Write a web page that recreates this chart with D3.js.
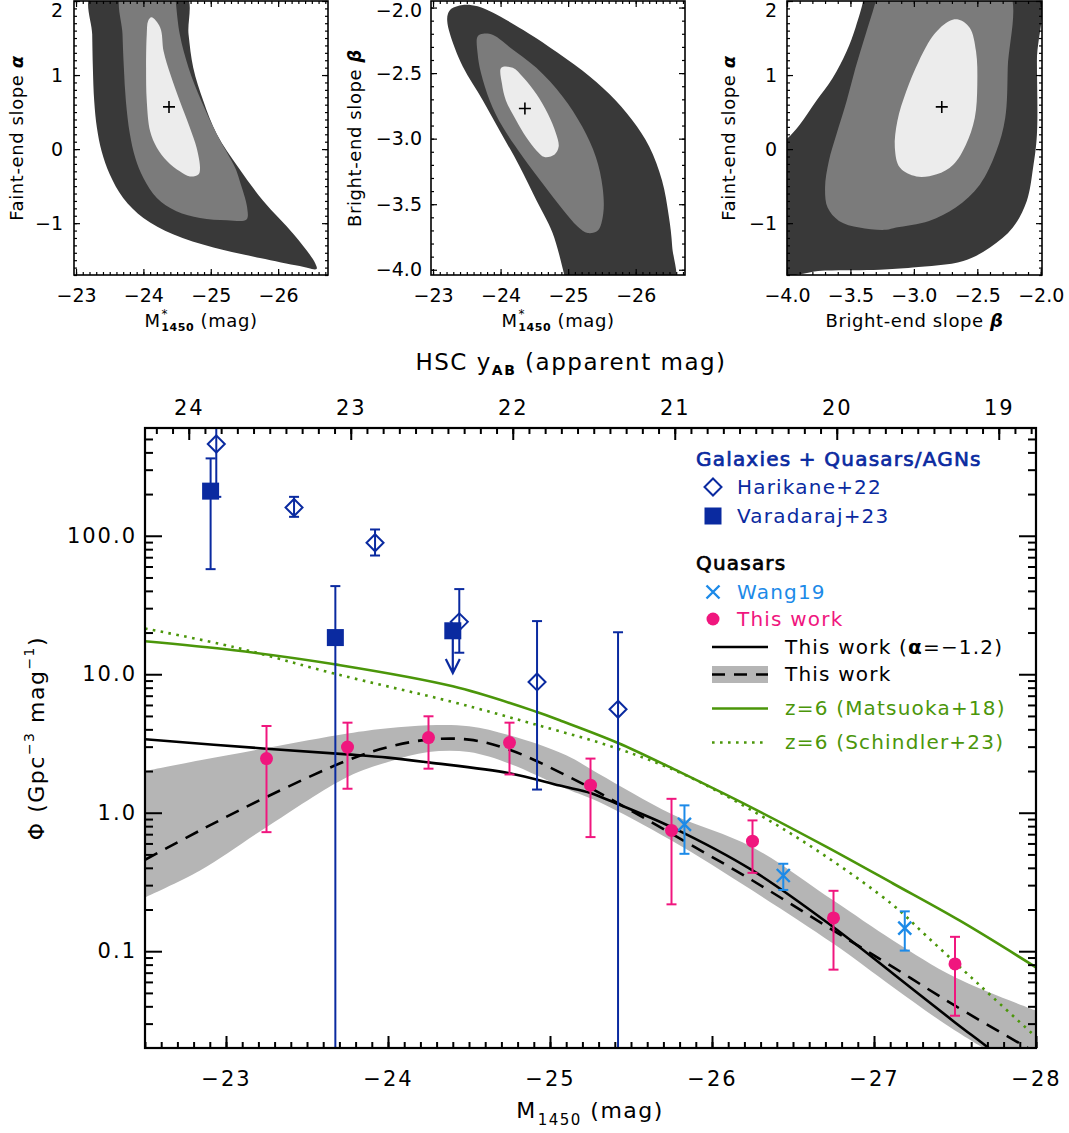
<!DOCTYPE html>
<html>
<head>
<meta charset="utf-8">
<title>Quasar luminosity function</title>
<script src="https://cdn.jsdelivr.net/npm/d3@7"></script>
<style>
  html, body { margin: 0; padding: 0; background: #fff; }
  svg text { font-family: 'DejaVu Sans', 'Noto Sans', sans-serif; }
</style>
</head>
<body>
<svg id="fig" width="1069" height="1133" xmlns="http://www.w3.org/2000/svg"></svg>
<script>
// ====================== data ======================

// Confidence regions of the double power-law fit (outer = 3 sigma, inner = 1 sigma)
// M*_1450 vs faint-end slope alpha
const regionMstarAlpha3 = [[-23.23,2.1],[-23.24,1.55],[-23.25,1.10],[-23.27,0.65],[-23.31,0.29],[-23.38,-0.03],[-23.50,-0.34],[-23.70,-0.66],[-24.00,-0.93],[-24.44,-1.15],[-25.04,-1.33],[-25.73,-1.47],[-26.32,-1.58],[-26.57,-1.62],[-26.55,-1.54],[-26.23,-1.15],[-25.78,-0.70],[-25.41,-0.25],[-25.09,0.20],[-24.89,0.65],[-24.74,1.10],[-24.67,1.55],[-24.62,2.1]];
const regionMstarAlpha2 = [[-23.68,2.1],[-23.69,1.55],[-23.71,1.10],[-23.74,0.65],[-23.80,0.20],[-23.88,-0.12],[-24.00,-0.39],[-24.20,-0.66],[-24.49,-0.84],[-24.84,-0.93],[-25.24,-0.96],[-25.53,-0.95],[-25.54,-0.79],[-25.43,-0.43],[-25.36,-0.25],[-25.09,0.20],[-24.86,0.65],[-24.67,1.10],[-24.54,1.55],[-24.48,2.0],[-24.47,2.1]];
const regionMstarAlpha1 = [[-24.12,1.78],[-24.25,1.64],[-24.30,1.32],[-24.40,1.01],[-24.54,0.65],[-24.69,0.29],[-24.79,0.02],[-24.84,-0.25],[-24.82,-0.34],[-24.69,-0.37],[-24.54,-0.30],[-24.35,-0.16],[-24.20,0.02],[-24.10,0.24],[-24.05,0.65],[-24.04,1.10],[-24.05,1.55],[-24.07,1.73]];
const bestMstarAlpha = [-24.38, 0.57];

// M*_1450 vs bright-end slope beta
const regionMstarBeta3 = [[-23.22,-2.05],[-23.27,-2.01],[-23.44,-1.98],[-23.66,-1.99],[-23.89,-2.04],[-24.33,-2.17],[-24.72,-2.30],[-25.21,-2.48],[-25.61,-2.66],[-25.95,-2.86],[-26.20,-3.06],[-26.39,-3.32],[-26.49,-3.59],[-26.54,-3.82],[-26.55,-4.15],[-24.99,-4.15],[-24.97,-4.10],[-24.77,-3.72],[-24.53,-3.47],[-24.28,-3.21],[-24.01,-2.96],[-23.74,-2.71],[-23.44,-2.45],[-23.25,-2.20],[-23.21,-2.10]];
const regionMstarBeta2 = [[-23.66,-2.22],[-23.74,-2.20],[-23.89,-2.21],[-24.13,-2.30],[-24.53,-2.46],[-24.92,-2.68],[-25.21,-2.91],[-25.41,-3.14],[-25.51,-3.37],[-25.52,-3.57],[-25.44,-3.70],[-25.29,-3.72],[-25.14,-3.67],[-24.92,-3.54],[-24.62,-3.34],[-24.33,-3.14],[-24.03,-2.91],[-23.84,-2.71],[-23.71,-2.50],[-23.66,-2.35]];
const regionMstarBeta1 = [[-24.01,-2.46],[-24.18,-2.46],[-24.33,-2.53],[-24.53,-2.66],[-24.70,-2.81],[-24.82,-2.96],[-24.86,-3.06],[-24.80,-3.12],[-24.65,-3.14],[-24.53,-3.09],[-24.38,-2.99],[-24.23,-2.86],[-24.08,-2.71],[-24.02,-2.58]];
const bestMstarBeta = [-24.36, -2.77];

// beta vs alpha
const regionBetaAlpha3 = [[-4.10,0.02],[-4.00,0.14],[-3.90,0.33],[-3.77,0.65],[-3.64,0.96],[-3.53,1.32],[-3.46,1.64],[-3.40,2.0],[-3.39,2.15],[-2.70,2.15],[-2.03,2.15],[-2.03,1.20],[-2.03,0.20],[-2.06,-0.25],[-2.11,-0.70],[-2.22,-1.06],[-2.40,-1.33],[-2.61,-1.51],[-3.01,-1.60],[-3.27,-1.63],[-3.70,-1.64],[-4.10,-1.65]];
const regionBetaAlpha2 = [[-3.28,2.15],[-3.30,2.0],[-3.38,1.55],[-3.46,1.10],[-3.53,0.65],[-3.61,0.20],[-3.67,-0.16],[-3.70,-0.52],[-3.68,-0.79],[-3.59,-0.97],[-3.43,-1.06],[-3.22,-1.09],[-3.14,-1.06],[-2.88,-0.97],[-2.67,-0.79],[-2.48,-0.48],[-2.35,-0.03],[-2.28,0.42],[-2.26,1.10],[-2.26,2.15],[-2.75,2.15]];
const regionBetaAlpha1 = [[-2.65,1.75],[-2.56,1.64],[-2.51,1.32],[-2.50,0.87],[-2.52,0.42],[-2.59,0.06],[-2.69,-0.21],[-2.82,-0.34],[-2.98,-0.37],[-3.11,-0.25],[-3.15,0.02],[-3.13,0.38],[-3.06,0.78],[-2.96,1.19],[-2.84,1.55],[-2.72,1.73]];
const bestBetaAlpha = [-2.78, 0.57];

// Panel tick labels
const ticksMstar = [-23, -24, -25, -26];
const ticksAlpha = [-1, 0, 1, 2];
const ticksBeta = [-4.0, -3.5, -3.0, -2.5, -2.0];

// Main panel: binned luminosity function, this work
const thisWorkM   = [-23.25, -23.75, -24.25, -24.75, -25.25, -25.75, -26.25, -26.75, -27.5];
const thisWorkPhi = [2.46, 2.98, 3.49, 3.21, 1.58, 0.745, 0.623, 0.174, 0.081];
const thisWorkHi  = [4.23, 4.47, 4.97, 4.47, 2.46, 1.26, 0.88, 0.273, 0.127];
const thisWorkLo  = [0.724, 1.49, 2.08, 1.89, 0.667, 0.218, 0.368, 0.0736, 0.0342];

// Wang et al. 2019
const wangM   = [-25.83, -26.44, -27.19];
const wangPhi = [0.823, 0.352, 0.147];
const wangHi  = [1.13, 0.428, 0.194];
const wangLo  = [0.505, 0.277, 0.101];

// Harikane et al. 2022 (galaxies + AGNs)
const harikaneM   = [-22.94, -23.42, -23.92, -24.44, -24.92, -25.42];
const harikanePhi = [460, 160, 89, 23.9, 8.8, 5.58];
const harikaneHi  = [1000, 191, 111, 41.2, 24.2, 20.1];
const harikaneLo  = [191, 137, 72, 14.3, 1.47, 0.001];

// Varadaraj et al. 2023 (galaxies + AGNs); last bin is an upper limit
const varadarajM     = [-22.905, -23.675, -24.40];
const varadarajPhi   = [210, 18.4, 20.6];
const varadarajHi    = [362, 43.3, null];
const varadarajLo    = [57.4, 0.001, null];
const varadarajLimit = [null, null, 10.2];

// Fitted luminosity functions
const fixedAlphaM   = [-22.5, -23.25, -23.75, -24.0, -24.25, -24.75, -25.06, -25.25, -25.34, -25.75, -26.25, -26.75, -27.12, -27.5, -27.71, -28.0];
const fixedAlphaPhi = [3.39, 2.90, 2.64, 2.50, 2.31, 1.93, 1.57, 1.39, 1.26, 0.787, 0.383, 0.149, 0.0685, 0.0306, 0.0199, 0.0107];

const bestFitM   = [-22.5, -22.84, -23.25, -23.75, -24.0, -24.25, -24.5, -24.75, -25.1, -25.34, -25.75, -26.25, -26.75, -27.12, -27.5, -28.0];
const bestFitPhi = [0.457, 0.745, 1.30, 2.39, 2.98, 3.37, 3.37, 2.85, 1.86, 1.32, 0.705, 0.324, 0.141, 0.0765, 0.0404, 0.0185];

const bandM  = [-22.5, -22.84, -23.25, -23.75, -24.0, -24.25, -24.5, -24.75, -25.1, -25.3, -25.75, -26.25, -26.75, -27.12, -27.5, -28.0];
const bandHi = [2.0, 2.39, 2.93, 3.73, 4.07, 4.28, 4.21, 3.62, 2.60, 1.91, 0.98, 0.564, 0.232, 0.119, 0.0648, 0.0372];
const bandLo = [0.245, 0.383, 0.787, 1.81, 2.32, 2.74, 2.74, 2.26, 1.49, 1.20, 0.63, 0.274, 0.113, 0.0548, 0.0267, 0.012];

// z = 6 luminosity functions
const matsuokaM   = [-22.5, -23.05, -23.67, -24.40, -24.92, -25.06, -25.42, -25.80, -26.30, -26.71, -27.12, -27.53, -28.0];
const matsuokaPhi = [17.3, 14.9, 11.8, 8.18, 5.34, 4.65, 3.19, 1.97, 1.01, 0.564, 0.307, 0.166, 0.0765];

const schindlerM   = [-22.5, -23.05, -23.67, -24.40, -24.89, -25.42, -25.84, -26.30, -26.71, -27.12, -27.32, -27.53, -27.74, -28.0];
const schindlerPhi = [21.4, 15.7, 10.1, 6.3, 4.40, 2.90, 1.86, 0.956, 0.478, 0.214, 0.130, 0.077, 0.0457, 0.024];

// Axis ticks of the main panel
const absMagTicks = [-23, -24, -25, -26, -27, -28];
const appMagTicks = [24, 23, 22, 21, 20, 19];
const phiTicks = [0.1, 1, 10, 100];
const appMagOffset = 46.77;   // y_AB = M_1450 + offset

// ====================== drawing ======================
const svg = d3.select("#fig");
const MINUS = "\u2212";
const fmtInt = d => (d < 0 ? MINUS : "") + Math.abs(d);
const fmtOne = d => (d < 0 ? MINUS : "") + Math.abs(d).toFixed(1);
const fmtPhi = d => d >= 1 ? d.toFixed(1) : String(d);

const COL = {
  dark: "#393939", mid: "#7b7b7b", light: "#ececec",
  navy: "#0a2aa0", pink: "#f0167e", sky: "#1c8ae8", green: "#4b960a", band: "#b5b5b5"
};

function stepValues(domain, step) {
  const lo = Math.min(domain[0], domain[1]), hi = Math.max(domain[0], domain[1]);
  const out = [];
  for (let k = Math.ceil(lo / step - 1e-9); k * step <= hi + 1e-9; k++) out.push(+(k * step).toFixed(4));
  return out;
}

function cleanAxis(sel, opts) {
  sel.select(".domain").remove();
  sel.attr("font-family", null).attr("font-size", null);
  sel.selectAll(".tick line").attr("stroke", "#000").attr("stroke-width", opts.sw);
  sel.selectAll(".tick text").attr("fill", "#000")
    .style("font-size", (opts.fs || 18) + "px")
    .style("letter-spacing", (opts.ls || 0) + "px");
}

// ---------- the three confidence-region panels ----------
const panelTop = 1, panelBottom = 275;
const panels = [
  { left: 74, right: 328, xDomain: [-22.97, -26.74], yDomain: [-1.7, 2.0],
    xMajor: ticksMstar, xStep: 0.1, yMajor: ticksAlpha, yStep: 0.1, xFmt: fmtInt, yFmt: fmtInt,
    regions: [regionMstarAlpha3, regionMstarAlpha2, regionMstarAlpha1], best: bestMstarAlpha,
    xTitle: "mstar", yTitle: ["Faint-end slope ", "α"], yTitleX: 23, yPad: 11 },
  { left: 431, right: 685, xDomain: [-22.97, -26.73], yDomain: [-4.04, -1.95],
    xMajor: ticksMstar, xStep: 0.1, yMajor: ticksBeta, yStep: 0.1, xFmt: fmtInt, yFmt: fmtOne,
    regions: [regionMstarBeta3, regionMstarBeta2, regionMstarBeta1], best: bestMstarBeta,
    xTitle: "mstar", yTitle: ["Bright-end slope ", "β"], yTitleX: 361, yPad: 9 },
  { left: 787, right: 1042, xDomain: [-4.0, -1.99], yDomain: [-1.7, 2.0],
    xMajor: ticksBeta, xStep: 0.1, yMajor: ticksAlpha, yStep: 0.1, xFmt: fmtOne, yFmt: fmtInt,
    regions: [regionBetaAlpha3, regionBetaAlpha2, regionBetaAlpha1], best: bestBetaAlpha,
    xTitle: ["Bright-end slope  ", "β"], yTitle: ["Faint-end slope ", "α"], yTitleX: 735, yPad: 10 }
];

panels.forEach((p, i) => {
  const xs = d3.scaleLinear().domain(p.xDomain).range([p.left, p.right]);
  const ys = d3.scaleLinear().domain(p.yDomain).range([panelBottom, panelTop]);
  const g = svg.append("g");
  const clipId = "pclip" + i;
  g.append("clipPath").attr("id", clipId).append("rect")
    .attr("x", p.left).attr("y", panelTop).attr("width", p.right - p.left).attr("height", panelBottom - panelTop);

  const shape = d3.line().x(d => xs(d[0])).y(d => ys(d[1])).curve(d3.curveCatmullRomClosed.alpha(0.5));
  const fills = [COL.dark, COL.mid, COL.light];
  const cg = g.append("g").attr("clip-path", `url(#${clipId})`);
  p.regions.forEach((r, k) => cg.append("path").attr("d", shape(r)).attr("fill", fills[k]));

  // best-fit marker
  const bx = xs(p.best[0]), by = ys(p.best[1]);
  g.append("path").attr("d", `M${bx - 6},${by}H${bx + 6}M${bx},${by - 6}V${by + 6}`)
    .attr("stroke", "#000").attr("stroke-width", 1.6).attr("fill", "none");

  // axes with inward ticks on all four sides
  const xMinor = stepValues(p.xDomain, p.xStep), yMinor = stepValues(p.yDomain, p.yStep);
  const o = { sw: 1.2, fs: 19 };
  g.append("g").attr("transform", `translate(0,${panelBottom})`)
    .call(d3.axisBottom(xs).tickValues(xMinor).tickSize(-3).tickFormat("")).call(cleanAxis, o);
  g.append("g").attr("transform", `translate(0,${panelTop})`)
    .call(d3.axisTop(xs).tickValues(xMinor).tickSize(-3).tickFormat("")).call(cleanAxis, o);
  g.append("g").attr("transform", `translate(${p.left},0)`)
    .call(d3.axisLeft(ys).tickValues(yMinor).tickSize(-3).tickFormat("")).call(cleanAxis, o);
  g.append("g").attr("transform", `translate(${p.right},0)`)
    .call(d3.axisRight(ys).tickValues(yMinor).tickSize(-3).tickFormat("")).call(cleanAxis, o);
  g.append("g").attr("transform", `translate(0,${panelBottom})`)
    .call(d3.axisBottom(xs).tickValues(p.xMajor).tickSize(-6).tickPadding(14).tickFormat(p.xFmt)).call(cleanAxis, o);
  g.append("g").attr("transform", `translate(0,${panelTop})`)
    .call(d3.axisTop(xs).tickValues(p.xMajor).tickSize(-6).tickFormat("")).call(cleanAxis, o);
  const yl = g.append("g").attr("transform", `translate(${p.left},0)`)
    .call(d3.axisLeft(ys).tickValues(p.yMajor).tickSize(-6).tickPadding(p.yPad).tickFormat(p.yFmt)).call(cleanAxis, o);
  // keep the uppermost label inside the figure
  yl.selectAll(".tick").filter(d => ys(d) < 10).select("text").attr("y", d => 10 - ys(d));
  g.append("g").attr("transform", `translate(${p.right},0)`)
    .call(d3.axisRight(ys).tickValues(p.yMajor).tickSize(-6).tickFormat("")).call(cleanAxis, o);

  g.append("rect").attr("x", p.left).attr("y", panelTop).attr("width", p.right - p.left)
    .attr("height", panelBottom - panelTop).attr("fill", "none").attr("stroke", "#000").attr("stroke-width", 1.6);

  // axis titles
  const cx = (p.left + p.right) / 2;
  const xt = g.append("text").attr("x", cx).attr("y", 327).attr("text-anchor", "middle")
    .style("font-size", "18px").style("letter-spacing", "0.6px");
  if (p.xTitle === "mstar") {
    xt.append("tspan").text("M");
    xt.append("tspan").text("*").style("font-size", "12px").attr("dy", -9).attr("dx", 1);
    xt.append("tspan").text("1450").style("font-size", "11px").style("font-weight", "bold").attr("dx", -7).attr("dy", 13);
    xt.append("tspan").text(" (mag)").attr("dy", -4);
  } else {
    xt.append("tspan").text(p.xTitle[0]);
    xt.append("tspan").text(p.xTitle[1]).style("font-weight", "bold").style("font-style", "italic");
  }
  const yt = g.append("text").attr("transform", `translate(${p.yTitleX},${(panelTop + panelBottom) / 2}) rotate(-90)`)
    .attr("text-anchor", "middle").style("font-size", "18px").style("letter-spacing", "0.6px");
  yt.append("tspan").text(p.yTitle[0]);
  yt.append("tspan").text(p.yTitle[1]).style("font-weight", "bold").style("font-style", "italic");
});

// ---------- main panel: luminosity function ----------
const L = 145, R = 1036, T = 428, B = 1048;
const x = d3.scaleLinear().domain([-22.5, -28]).range([L, R]);
const xTop = d3.scaleLinear().domain([-22.5 + appMagOffset, -28 + appMagOffset]).range([L, R]);
const y = d3.scaleLog().domain([0.02, 600]).range([B, T]);

const main = svg.append("g");
main.append("clipPath").attr("id", "mclip").append("rect")
  .attr("x", L).attr("y", T).attr("width", R - L).attr("height", B - T);
const plot = main.append("g").attr("clip-path", "url(#mclip)");

// uncertainty band of the best fit
plot.append("path")
  .datum(bandM.map((m, i) => [m, bandLo[i], bandHi[i]]))
  .attr("fill", COL.band)
  .attr("d", d3.area().x(d => x(d[0])).y0(d => y(d[1])).y1(d => y(d[2])).curve(d3.curveCatmullRom.alpha(0.5)));

const curve = d3.line().x(d => x(d[0])).y(d => y(d[1])).curve(d3.curveCatmullRom.alpha(0.5));
const zip = (a, b) => a.map((v, i) => [v, b[i]]);

plot.append("path").attr("d", curve(zip(schindlerM, schindlerPhi)))
  .attr("fill", "none").attr("stroke", COL.green).attr("stroke-width", 2.6).attr("stroke-dasharray", "2.6 5.4");
plot.append("path").attr("d", curve(zip(matsuokaM, matsuokaPhi)))
  .attr("fill", "none").attr("stroke", COL.green).attr("stroke-width", 2.6);
plot.append("path").attr("d", curve(zip(bestFitM, bestFitPhi)))
  .attr("fill", "none").attr("stroke", "#000").attr("stroke-width", 2.6).attr("stroke-dasharray", "14 9");
plot.append("path").attr("d", curve(zip(fixedAlphaM, fixedAlphaPhi)))
  .attr("fill", "none").attr("stroke", "#000").attr("stroke-width", 2.6);

// error bars
function errorBars(g, ms, hi, lo, color, cap, sw) {
  ms.forEach((m, i) => {
    if (hi[i] == null) return;
    const cx = x(m), y1 = y(hi[i]), y2 = y(lo[i]);
    g.append("line").attr("x1", cx).attr("x2", cx).attr("y1", y1).attr("y2", y2)
      .attr("stroke", color).attr("stroke-width", sw);
    [y1, y2].forEach(yy => g.append("line").attr("x1", cx - cap / 2).attr("x2", cx + cap / 2)
      .attr("y1", yy).attr("y2", yy).attr("stroke", color).attr("stroke-width", sw));
  });
}

function diamond(g, cx, cy, color) {
  const s = 8.5;
  g.append("path").attr("d", `M${cx},${cy - s}L${cx + s},${cy}L${cx},${cy + s}L${cx - s},${cy}Z`)
    .attr("fill", "none").attr("stroke", color).attr("stroke-width", 2);
}
function square(g, cx, cy, color) {
  g.append("rect").attr("x", cx - 8.5).attr("y", cy - 8.5).attr("width", 17).attr("height", 17).attr("fill", color);
}
function cross(g, cx, cy, color) {
  const s = 6.5;
  g.append("path").attr("d", `M${cx - s},${cy - s}L${cx + s},${cy + s}M${cx - s},${cy + s}L${cx + s},${cy - s}`)
    .attr("stroke", color).attr("stroke-width", 2.4).attr("fill", "none");
}
function dot(g, cx, cy, color) {
  g.append("circle").attr("cx", cx).attr("cy", cy).attr("r", 6.5).attr("fill", color);
}

const pts = main.append("g").attr("clip-path", "url(#mclip)");
errorBars(pts, harikaneM, harikaneHi, harikaneLo, COL.navy, 10, 2);
errorBars(pts, varadarajM, varadarajHi, varadarajLo, COL.navy, 10, 2);
varadarajM.forEach((m, i) => {
  if (varadarajLimit[i] == null) return;
  const cx = x(m), y0 = y(varadarajPhi[i]), y1 = y(varadarajLimit[i]);
  pts.append("path").attr("d", `M${cx},${y0}V${y1}M${cx - 7},${y1 - 14}L${cx},${y1}L${cx + 7},${y1 - 14}`)
    .attr("stroke", COL.navy).attr("stroke-width", 2.2).attr("fill", "none");
});
harikaneM.forEach((m, i) => diamond(pts, x(m), y(harikanePhi[i]), COL.navy));
varadarajM.forEach((m, i) => square(pts, x(m), y(varadarajPhi[i]), COL.navy));

errorBars(pts, wangM, wangHi, wangLo, COL.sky, 10, 2);
wangM.forEach((m, i) => cross(pts, x(m), y(wangPhi[i]), COL.sky));

errorBars(pts, thisWorkM, thisWorkHi, thisWorkLo, COL.pink, 10, 2);
thisWorkM.forEach((m, i) => dot(pts, x(m), y(thisWorkPhi[i]), COL.pink));

// axes
const mo = { sw: 2, fs: 21, ls: 2 };
const absMinor = stepValues([-22.5, -28], 0.1);
const appMinor = stepValues(xTop.domain(), 0.1);
const phiMinor = [];
[-2, -1, 0, 1, 2].forEach(e => d3.range(2, 10).forEach(k => {
  const v = k * Math.pow(10, e);
  if (v > 0.02 && v < 600) phiMinor.push(v);
}));

main.append("g").attr("transform", `translate(0,${B})`)
  .call(d3.axisBottom(x).tickValues(absMinor).tickSize(-6).tickFormat("")).call(cleanAxis, mo);
main.append("g").attr("transform", `translate(0,${B})`)
  .call(d3.axisBottom(x).tickValues(absMagTicks).tickSize(-12).tickPadding(23).tickFormat(fmtInt)).call(cleanAxis, mo);
main.append("g").attr("transform", `translate(0,${T})`)
  .call(d3.axisTop(xTop).tickValues(appMinor).tickSize(-6).tickFormat("")).call(cleanAxis, mo);
main.append("g").attr("transform", `translate(0,${T})`)
  .call(d3.axisTop(xTop).tickValues(appMagTicks).tickSize(-12).tickPadding(13).tickFormat(d3.format("d"))).call(cleanAxis, mo);
main.append("g").attr("transform", `translate(${L},0)`)
  .call(d3.axisLeft(y).tickValues(phiMinor).tickSize(-8).tickFormat("")).call(cleanAxis, mo);
main.append("g").attr("transform", `translate(${L},0)`)
  .call(d3.axisLeft(y).tickValues(phiTicks).tickSize(-17).tickPadding(8).tickFormat(fmtPhi)).call(cleanAxis, mo);
main.append("g").attr("transform", `translate(${R},0)`)
  .call(d3.axisRight(y).tickValues(phiMinor).tickSize(-8).tickFormat("")).call(cleanAxis, mo);
main.append("g").attr("transform", `translate(${R},0)`)
  .call(d3.axisRight(y).tickValues(phiTicks).tickSize(-17).tickFormat("")).call(cleanAxis, mo);

main.append("rect").attr("x", L).attr("y", T).attr("width", R - L).attr("height", B - T)
  .attr("fill", "none").attr("stroke", "#000").attr("stroke-width", 2.2);

// axis titles
const xTitle = main.append("text").attr("x", 590).attr("y", 1118).attr("text-anchor", "middle")
  .style("font-size", "22px").style("letter-spacing", "1.5px");
xTitle.append("tspan").text("M");
xTitle.append("tspan").text("1450").style("font-size", "15px").attr("dy", 7).attr("dx", 1);
xTitle.append("tspan").text(" (mag)").attr("dy", -7);

const topTitle = main.append("text").attr("x", 571).attr("y", 370).attr("text-anchor", "middle")
  .style("font-size", "23px").style("letter-spacing", "1.5px");
topTitle.append("tspan").text("HSC y");
topTitle.append("tspan").text("AB").style("font-size", "14px").style("font-weight", "bold").attr("dy", 5);
topTitle.append("tspan").text(" (apparent mag)").attr("dy", -5);

const yTitle = main.append("text").attr("transform", `translate(44,${(T + B) / 2}) rotate(-90)`)
  .attr("text-anchor", "middle").style("font-size", "22px").style("letter-spacing", "1.5px");
yTitle.append("tspan").text("Φ (Gpc");
yTitle.append("tspan").text(MINUS + "3").style("font-size", "14px").attr("dy", -10);
yTitle.append("tspan").text(" mag").attr("dy", 10);
yTitle.append("tspan").text(MINUS + "1").style("font-size", "14px").attr("dy", -10);
yTitle.append("tspan").text(")").attr("dy", 10);

// ---------- legend ----------
const lg = main.append("g");
function legendText(tx, ty, txt, color, bold) {
  const t = lg.append("text").attr("x", tx).attr("y", ty).attr("dy", "0.35em").attr("fill", color)
    .style("font-size", "20px").style("letter-spacing", "1.2px");
  if (bold) t.attr("stroke", color).attr("stroke-width", 0.7);
  return t.text(txt);
}
legendText(696, 459, "Galaxies + Quasars/AGNs", COL.navy, true);
diamond(lg, 713, 487, COL.navy);
legendText(737, 487, "Harikane+22", COL.navy);
square(lg, 713, 516, COL.navy);
legendText(737, 516, "Varadaraj+23", COL.navy);

legendText(696, 563, "Quasars", "#000", true);
cross(lg, 713, 592, COL.sky);
legendText(737, 592, "Wang19", COL.sky);
dot(lg, 713, 619, COL.pink);
legendText(737, 619, "This work", COL.pink);

lg.append("line").attr("x1", 712).attr("x2", 768).attr("y1", 647).attr("y2", 647).attr("stroke", "#000").attr("stroke-width", 2.6);
const t1 = legendText(785, 647, "This work (", "#000");
t1.append("tspan").text("α").style("font-weight", "bold");
t1.append("tspan").text("=" + MINUS + "1.2)");

lg.append("rect").attr("x", 712).attr("y", 666).attr("width", 56).attr("height", 17).attr("fill", COL.band);
lg.append("line").attr("x1", 712).attr("x2", 768).attr("y1", 674.5).attr("y2", 674.5).attr("stroke", "#000")
  .attr("stroke-width", 2.6).attr("stroke-dasharray", "13 9");
legendText(785, 674, "This work", "#000");

lg.append("line").attr("x1", 712).attr("x2", 768).attr("y1", 708.5).attr("y2", 708.5).attr("stroke", COL.green).attr("stroke-width", 2.6);
legendText(785, 708, "z=6 (Matsuoka+18)", COL.green);
lg.append("line").attr("x1", 712).attr("x2", 768).attr("y1", 742.5).attr("y2", 742.5).attr("stroke", COL.green)
  .attr("stroke-width", 2.6).attr("stroke-dasharray", "2.6 5.4");
legendText(785, 742, "z=6 (Schindler+23)", COL.green);
</script>
</body>
</html>
